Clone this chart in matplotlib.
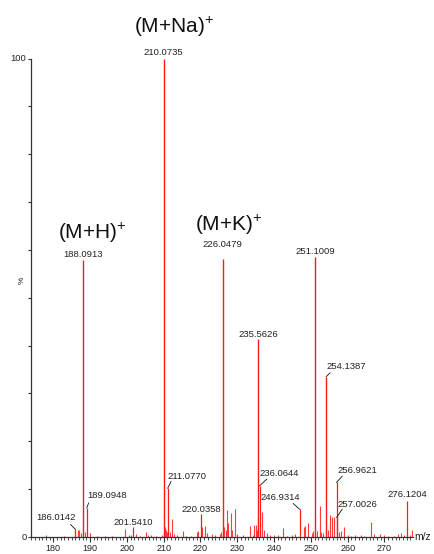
import matplotlib
matplotlib.use("Agg")
import matplotlib.pyplot as plt
from matplotlib.ticker import MultipleLocator, FixedLocator

plt.rcParams['font.family'] = ['Liberation Sans', 'DejaVu Sans']
plt.rcParams['mathtext.fontset'] = 'custom'
plt.rcParams['mathtext.rm'] = 'Liberation Sans'
plt.rcParams['mathtext.it'] = 'Liberation Sans'

# ---- data ----
major_mz = [188.0913, 210.0735, 226.0479, 235.5626, 251.1009, 254.1387]
major_int = [57.9, 100.0, 58.0, 41.4, 58.6, 33.5]

labeled_mz = [186.0142, 189.0948, 201.5410, 211.0770, 220.0358,
              236.0644, 246.9314, 256.9621, 257.0026, 276.1204]
labeled_int = [1.6, 6.1, 2.0, 10.2, 4.8, 10.7, 5.8, 11.4, 4.1, 7.5]

minor_mz = [178.0, 183.0, 186.6, 187.0, 187.4, 188.5, 190.0, 192.0, 194.0, 196.0,
            199.6, 200.5, 201.0, 202.6, 203.5, 205.2, 205.6, 206.5, 208.0, 209.6,
            210.3, 210.5, 210.8, 211.6, 212.25, 212.7, 213.5, 215.2, 216.0, 217.5,
            219.0, 219.4, 220.5, 221.2, 221.8, 223.0, 224.0, 225.2, 225.7, 226.5,
            226.8, 227.1, 227.5, 228.3, 228.6, 229.3, 230.0, 231.5, 233.4, 234.3,
            234.6, 235.1, 235.3, 236.7, 237.3, 238.0, 239.0, 240.0, 241.0, 242.5,
            243.5, 245.0, 245.8, 248.2, 248.5, 249.1, 250.2, 250.7, 251.6, 252.4,
            252.8, 253.4, 254.6, 255.3, 255.7, 256.4, 257.6, 258.3, 259.1, 260.0,
            261.0, 262.0, 263.5, 264.5, 266.3, 267.2, 268.8, 270.0, 271.0, 272.5,
            273.8, 274.6, 275.3, 276.8, 277.6]
minor_int = [0.4, 0.2, 1.5, 1.5, 0.8, 1.0, 0.8, 0.3, 0.3, 0.2,
             1.6, 0.4, 0.5, 0.6, 0.3, 1.0, 0.5, 0.4, 0.3, 0.4,
             2.0, 1.5, 1.0, 1.0, 3.8, 0.6, 0.5, 1.3, 0.3, 0.3,
             1.0, 1.2, 2.0, 2.3, 0.8, 0.6, 0.4, 0.6, 1.1, 2.0,
             1.5, 5.6, 2.9, 5.1, 1.5, 5.8, 0.6, 0.4, 2.2, 0.5,
             2.5, 2.5, 1.5, 5.3, 1.5, 0.8, 0.5, 0.4, 0.4, 1.8,
             0.3, 0.5, 0.6, 2.0, 2.3, 2.9, 0.8, 1.2, 1.2, 6.5,
             1.0, 0.8, 1.5, 4.5, 4.2, 4.1, 1.0, 1.2, 2.0, 0.5,
             0.3, 0.4, 0.4, 0.3, 3.1, 0.6, 0.6, 0.4, 0.3, 0.3,
             0.7, 0.8, 0.4, 0.5, 1.5]

ion_labels = ['(M+H)', '(M+Na)', '(M+K)']
ion_mz = [188.0913, 210.0735, 226.0479]

x_ticks = [180, 190, 200, 210, 220, 230, 240, 250, 260, 270]

# ---- layout of peak labels: mz -> (text x in m/z, text y in %, leader start or None) ----
label_layout = {
    188.0913: (188.0, 59.1, None),
    210.0735: (210.0, 101.2, None),
    226.0479: (226.0, 61.2, None),
    235.5626: (235.7, 42.4, None),
    251.1009: (251.3, 59.6, None),
    254.1387: (259.7, 35.7, (255.2, 34.3)),
    186.0142: (180.7, 4.0, (184.7, 2.6)),
    189.0948: (194.5, 8.6, (189.6, 7.1)),
    201.5410: (201.7, 3.1, None),
    211.0770: (216.4, 12.6, (212.0, 11.6)),
    220.0358: (220.2, 5.8, None),
    236.0644: (241.5, 13.2, (238.0, 12.1)),
    246.9314: (241.8, 8.2, (245.2, 7.0)),
    256.9621: (262.5, 13.8, (258.5, 12.7)),
    257.0026: (262.5, 6.7, (258.5, 5.8)),
    276.1204: (276.3, 8.8, None),
}
ion_layout = [(190.5, 63.5), (212.8, 106.6), (227.7, 65.2)]

W, H = 434, 554
fig = plt.figure(figsize=(W / 100, H / 100), dpi=100)
ax = fig.add_axes([31 / W, 17 / H, (413 - 31) / W, (537 - 58.5) / H])

peak_color = '#ff1a1a'
ax.vlines(minor_mz, 0, minor_int, color='#ff3b3b', lw=0.8)
ax.vlines(labeled_mz, 0, labeled_int, color=peak_color, lw=0.9)
ax.vlines(major_mz, 0, major_int, color=peak_color, lw=1.0)

ax.set_xlim(173.94, 277.75)
ax.set_ylim(0, 100)

for s in ['top', 'right']:
    ax.spines[s].set_visible(False)
for s in ['left', 'bottom']:
    ax.spines[s].set_color('#333333')
    ax.spines[s].set_linewidth(0.9)

ax.xaxis.set_major_locator(FixedLocator(x_ticks))
ax.xaxis.set_minor_locator(MultipleLocator(1))
ax.tick_params(axis='x', which='major', length=3.5, width=0.8, color='#333333',
               labelsize=6.5, pad=1.5, labelcolor='#222222')
ax.tick_params(axis='x', which='minor', length=2, width=0.6, color='#333333')

ax.yaxis.set_major_locator(MultipleLocator(10))
ax.set_yticklabels([])
ax.tick_params(axis='y', which='major', length=2.5, width=0.8, color='#333333')
ax.text(-0.012, 0, '0', transform=ax.get_yaxis_transform(), ha='right', va='center',
        fontsize=6.8, color='#222222')
ax.text(-0.012, 100, '100', transform=ax.get_yaxis_transform(), ha='right', va='center',
        fontsize=6.8, color='#222222')
ax.text(-0.022, 53.7, '%', transform=ax.get_yaxis_transform(), ha='center', va='center',
        fontsize=6, rotation=90, color='#222222')

fig.text(414 / W, (H - 537) / H, 'm/z', ha='left', va='center', fontsize=7.5, color='#222222')

all_mz = major_mz + labeled_mz
all_int = major_int + labeled_int
for mz, inten in zip(all_mz, all_int):
    tx, ty, lead = label_layout[mz]
    ax.text(tx, ty, f'{mz:.4f}', ha='center', va='center', fontsize=6.8,
            color='#222222', clip_on=False)
    if lead is not None:
        ax.plot([lead[0], mz], [lead[1], inten], color='#111111', lw=0.6, clip_on=False)

for name, (tx, ty) in zip(ion_labels, ion_layout):
    ax.text(tx, ty, name + r'$^{+}$', ha='center', va='center', fontsize=15,
            color='#111111', clip_on=False)

fig.savefig('out.png', dpi=100)
